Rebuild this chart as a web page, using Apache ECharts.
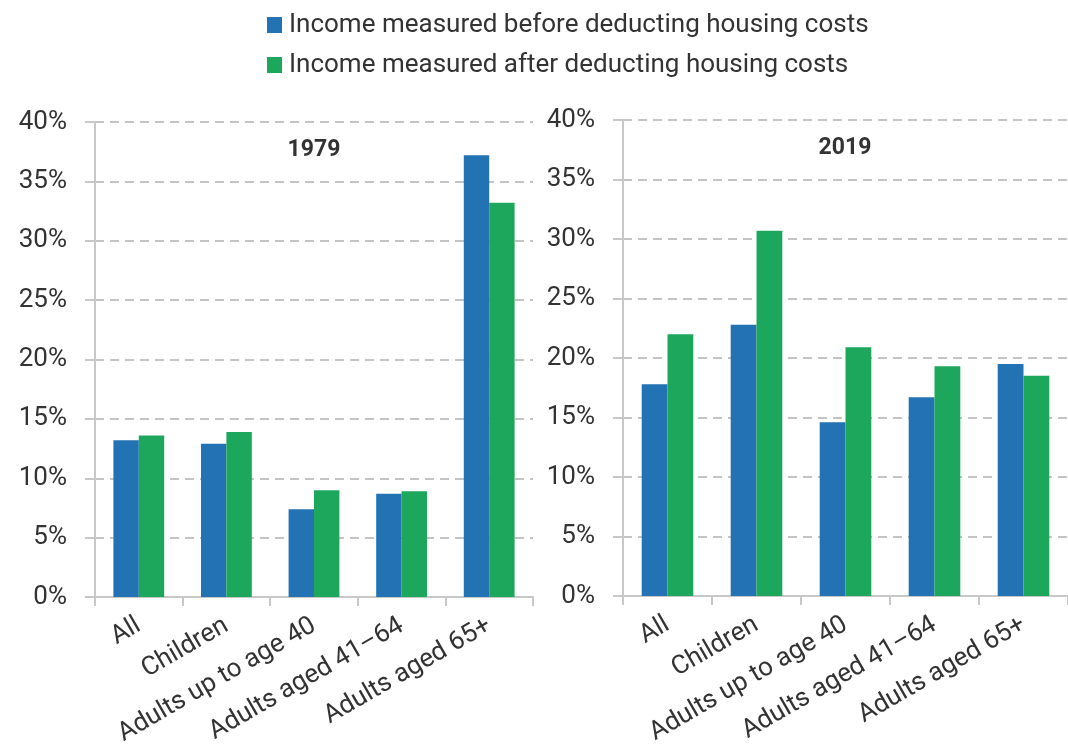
<!DOCTYPE html>
<html>
<head>
<meta charset="utf-8">
<script src="https://cdn.jsdelivr.net/npm/echarts@6/dist/echarts.min.js"></script>
<style>
html,body{margin:0;padding:0;background:#fff;}
#chart{width:1068px;height:753px;}
</style>
</head>
<body>
<div id="chart"></div>
<script>
var categories = ['All', 'Children', 'Adults up to age 40', 'Adults aged 41–64', 'Adults aged 65+'];
var panelTitles = ['1979', '2019'];
var seriesNames = ['Income measured before deducting housing costs', 'Income measured after deducting housing costs'];
var before1979 = [13.2, 12.9, 7.4, 8.7, 37.2];
var after1979 = [13.6, 13.9, 9.0, 8.9, 33.2];
var before2019 = [17.8, 22.8, 14.6, 16.7, 19.5];
var after2019 = [22.0, 30.7, 20.9, 19.3, 18.5];
var yTicks = [0, 5, 10, 15, 20, 25, 30, 35, 40];

var BLUE = '#2372b4', GREEN = '#1da75d', TXT = '#333333', AX = '#c8c8c8';
var FONT = 'Roboto';

function xAxis(idx) {
  return {
    type: 'category', gridIndex: idx, data: categories,
    axisLine: {lineStyle: {color: AX, width: 2}},
    axisTick: {show: true, length: 9, lineStyle: {color: AX, width: 2}},
    axisLabel: {rotate: 30, interval: 0, margin: 27, color: TXT, fontSize: 26, fontFamily: FONT}
  };
}
function yAxis(idx) {
  return {
    type: 'value', gridIndex: idx, min: yTicks[0], max: yTicks[yTicks.length - 1], interval: 5,
    axisLine: {show: true, lineStyle: {color: AX, width: 2}},
    axisTick: {show: true, length: 10, lineStyle: {color: AX, width: 2}},
    axisLabel: {margin: 28, color: TXT, fontSize: 26, fontFamily: FONT, formatter: '{value}%'},
    splitLine: {show: true, lineStyle: {color: '#c4c4c4', width: 2, type: [9, 6]}}
  };
}
function bar(name, data, color, idx) {
  return {
    name: name, type: 'bar', xAxisIndex: idx, yAxisIndex: idx, data: data,
    itemStyle: {color: color}, barGap: '0%', barCategoryGap: '42%', emphasis: {disabled: true}
  };
}

var chart = echarts.init(document.getElementById('chart'), null, {renderer: 'canvas'});
chart.setOption({
  animation: false,
  backgroundColor: '#fff',
  textStyle: {fontFamily: FONT},
  legend: {
    orient: 'vertical', left: 262, top: 7,
    itemWidth: 15, itemHeight: 16, itemGap: 14,
    icon: 'rect',
    textStyle: {color: TXT, fontSize: 26, fontFamily: FONT, lineHeight: 26, padding: [0, 0, 0, 2]},
    data: seriesNames
  },
  title: [
    {text: panelTitles[0], left: 309, top: 134, textAlign: 'center',
     textStyle: {color: TXT, fontSize: 23, fontWeight: 'bold', fontFamily: FONT}},
    {text: panelTitles[1], left: 840, top: 132, textAlign: 'center',
     textStyle: {color: TXT, fontSize: 23, fontWeight: 'bold', fontFamily: FONT}}
  ],
  grid: [
    {left: 95, width: 438, top: 122, bottom: 156},
    {left: 623, width: 454, top: 120, bottom: 157}
  ],
  xAxis: [xAxis(0), xAxis(1)],
  yAxis: [yAxis(0), yAxis(1)],
  series: [
    bar(seriesNames[0], before1979, BLUE, 0),
    bar(seriesNames[1], after1979, GREEN, 0),
    bar(seriesNames[0], before2019, BLUE, 1),
    bar(seriesNames[1], after2019, GREEN, 1)
  ]
});
</script>
</body>
</html>
